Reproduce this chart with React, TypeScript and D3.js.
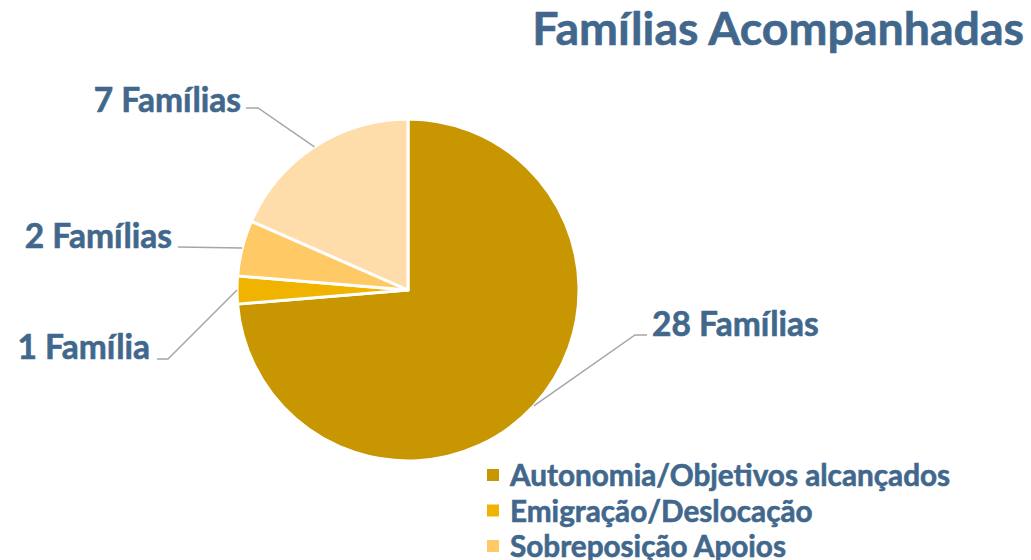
import React from 'react';
import * as d3 from 'd3';

const categories = ['Autonomia/Objetivos alcançados', 'Emigração/Deslocação', 'Sobreposição Apoios', 'Outros'];
const values = [28, 1, 2, 7];
const labels = ['28 Famílias', '1 Família', '2 Famílias', '7 Famílias'];
const colors = ['#C89600', '#F0B400', '#FFC966', '#FFDDAA'];
const legendCount = 3;

const W = 1031;
const H = 560;
const TEXT = '#41688C';
const FONT = 'Lato, "Open Sans", sans-serif';

// label anchor (end of the elbow) and text placement per slice
const labelPos = [
  { ex: 647, ey: 335, tx: 652, ty: 336, anchor: 'start' },
  { ex: 157, ey: 359, tx: 150, ty: 359, anchor: 'end' },
  { ex: 178, ey: 247, tx: 172, ty: 248, anchor: 'end' },
  { ex: 246, ey: 108, tx: 241, ty: 112, anchor: 'end' },
];
const elbowLen = [12, 11, 0, 12];

const App: React.FC = () => {
  const cx = 408;
  const cy = 290;
  const r = 171;

  const pie = d3.pie<number>().sort(null).value(d => d);
  const arcs = pie(values);
  const arc = d3.arc<d3.PieArcDatum<number>>().innerRadius(0).outerRadius(r);

  const textStyle = { stroke: TEXT, strokeWidth: 0.6, paintOrder: 'stroke' as any };

  return (
    <svg width={W} height={H} style={{ position: 'absolute', left: 0, top: 0, background: '#fff' }}>
      <text x={1024} y={45} textAnchor="end" fontFamily={FONT} fontWeight={700} fontSize={46.5} fill={TEXT} style={textStyle}>
        Famílias Acompanhadas
      </text>

      <g transform={`translate(${cx},${cy})`}>
        {arcs.map((a, i) => (
          <path key={i} d={arc(a) || ''} fill={colors[i]} stroke="#fff" strokeWidth={3} strokeLinejoin="round" />
        ))}
      </g>

      {arcs.map((a, i) => {
        const mid = (a.startAngle + a.endAngle) / 2;
        const sx = cx + r * Math.sin(mid);
        const sy = cy - r * Math.cos(mid);
        const p = labelPos[i];
        const dir = p.anchor === 'start' ? -1 : 1;
        const kx = p.ex + dir * elbowLen[i];
        return (
          <g key={i}>
            <polyline
              points={`${sx},${sy} ${kx},${p.ey} ${p.ex},${p.ey}`}
              fill="none"
              stroke="#A6A6A6"
              strokeWidth={1.5}
            />
            <text x={p.tx} y={p.ty} textAnchor={p.anchor as any} fontFamily={FONT} fontWeight={700} fontSize={33.5} fill={TEXT} style={textStyle}>
              {labels[i]}
            </text>
          </g>
        );
      })}

      {categories.slice(0, legendCount).map((c, i) => (
        <g key={c} transform={`translate(487,${475 + i * 35.5})`}>
          <rect x={0} y={-6} width={12} height={12} fill={colors[i]} />
          <text x={23} y={11} fontFamily={FONT} fontWeight={700} fontSize={29.7} fill={TEXT} style={textStyle}>
            {c}
          </text>
        </g>
      ))}
    </svg>
  );
};

export default App;
